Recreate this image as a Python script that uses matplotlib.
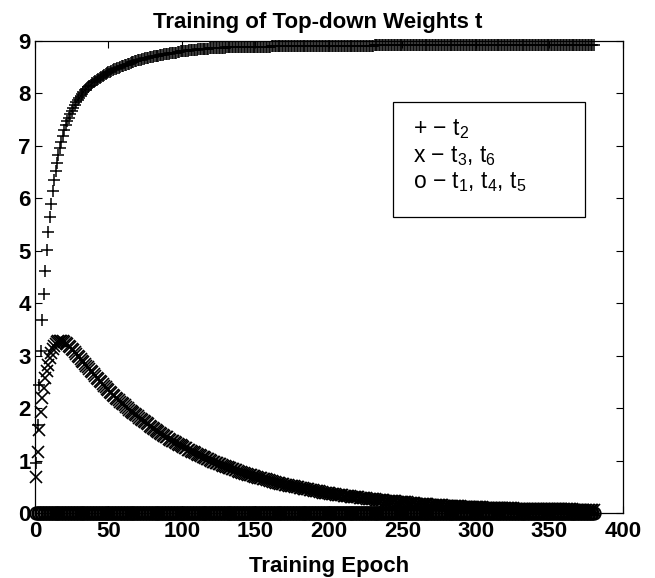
import numpy as np
import matplotlib
matplotlib.use("Agg")
import matplotlib.pyplot as plt
from matplotlib.patches import Rectangle

plt.rcParams['font.family'] = ['Liberation Sans', 'DejaVu Sans']
plt.rcParams['mathtext.fontset'] = 'custom'
plt.rcParams['mathtext.rm'] = 'Liberation Sans'
plt.rcParams['mathtext.it'] = 'Liberation Sans'

# training epochs 1..380, one marker per epoch
epochs = np.arange(1, 381)

# t2 (plus markers)
t_plus = [
    0.95, 1.68, 2.44, 3.08, 3.68, 4.18, 4.61, 5.01, 5.35, 5.64,
    5.90, 6.13, 6.34, 6.52, 6.68, 6.83, 6.96, 7.08, 7.19, 7.30,
    7.39, 7.47, 7.54, 7.61, 7.67, 7.73, 7.78, 7.83, 7.88, 7.92,
    7.96, 7.99, 8.03, 8.06, 8.09, 8.12, 8.15, 8.17, 8.20, 8.22,
    8.24, 8.26, 8.28, 8.30, 8.32, 8.34, 8.35, 8.37, 8.38, 8.40,
    8.41, 8.43, 8.44, 8.46, 8.47, 8.48, 8.49, 8.51, 8.52, 8.53,
    8.54, 8.55, 8.56, 8.57, 8.58, 8.59, 8.60, 8.61, 8.62, 8.63,
    8.64, 8.64, 8.65, 8.66, 8.67, 8.67, 8.68, 8.69, 8.69, 8.70,
    8.71, 8.71, 8.72, 8.72, 8.73, 8.74, 8.74, 8.75, 8.75, 8.76,
    8.76, 8.77, 8.77, 8.78, 8.78, 8.78, 8.79, 8.79, 8.80, 8.80,
    8.80, 8.81, 8.81, 8.81, 8.82, 8.82, 8.82, 8.83, 8.83, 8.83,
    8.84, 8.84, 8.84, 8.84, 8.85, 8.85, 8.85, 8.85, 8.86, 8.86,
    8.86, 8.86, 8.86, 8.87, 8.87, 8.87, 8.87, 8.87, 8.87, 8.88,
    8.88, 8.88, 8.88, 8.88, 8.88, 8.88, 8.88, 8.88, 8.88, 8.88,
    8.88, 8.88, 8.88, 8.89, 8.89, 8.89, 8.89, 8.89, 8.89, 8.89,
    8.89, 8.89, 8.89, 8.89, 8.89, 8.89, 8.89, 8.89, 8.89, 8.89,
    8.90, 8.90, 8.90, 8.90, 8.90, 8.90, 8.90, 8.90, 8.90, 8.90,
    8.90, 8.90, 8.90, 8.90, 8.90, 8.90, 8.90, 8.90, 8.90, 8.90,
    8.90, 8.90, 8.90, 8.90, 8.90, 8.90, 8.90, 8.90, 8.90, 8.90,
    8.91, 8.91, 8.91, 8.91, 8.91, 8.91, 8.91, 8.91, 8.91, 8.91,
    8.91, 8.91, 8.91, 8.91, 8.91, 8.91, 8.91, 8.91, 8.91, 8.91,
    8.91, 8.91, 8.91, 8.91, 8.91, 8.91, 8.91, 8.91, 8.91, 8.91,
    8.91, 8.91, 8.91, 8.91, 8.91, 8.91, 8.91, 8.91, 8.91, 8.91,
    8.92, 8.92, 8.92, 8.92, 8.92, 8.92, 8.92, 8.92, 8.92, 8.92,
    8.92, 8.92, 8.92, 8.92, 8.92, 8.92, 8.92, 8.92, 8.92, 8.92,
    8.92, 8.92, 8.92, 8.92, 8.92, 8.92, 8.92, 8.92, 8.92, 8.92,
    8.92, 8.92, 8.92, 8.92, 8.92, 8.92, 8.92, 8.92, 8.92, 8.92,
    8.92, 8.92, 8.92, 8.92, 8.92, 8.92, 8.92, 8.92, 8.92, 8.92,
    8.92, 8.92, 8.92, 8.92, 8.92, 8.92, 8.92, 8.92, 8.92, 8.92,
    8.92, 8.92, 8.92, 8.92, 8.92, 8.92, 8.92, 8.92, 8.92, 8.92,
    8.92, 8.92, 8.92, 8.92, 8.92, 8.92, 8.92, 8.92, 8.92, 8.92,
    8.92, 8.92, 8.92, 8.92, 8.92, 8.92, 8.92, 8.92, 8.92, 8.92,
    8.92, 8.92, 8.92, 8.92, 8.92, 8.92, 8.92, 8.92, 8.92, 8.92,
    8.92, 8.92, 8.92, 8.92, 8.92, 8.92, 8.92, 8.92, 8.92, 8.92,
    8.92, 8.92, 8.92, 8.92, 8.92, 8.92, 8.92, 8.92, 8.92, 8.92,
    8.92, 8.92, 8.92, 8.92, 8.92, 8.92, 8.92, 8.92, 8.92, 8.92,
    8.92, 8.92, 8.92, 8.92, 8.92, 8.92, 8.92, 8.92, 8.92, 8.92,
    8.92, 8.92, 8.92, 8.92, 8.92, 8.92, 8.92, 8.92, 8.92, 8.92,
]

# t3, t6 (x markers)
t_x = [
    0.69, 1.17, 1.58, 1.93, 2.19, 2.38, 2.57, 2.70, 2.83, 2.95,
    3.05, 3.13, 3.19, 3.23, 3.26, 3.27, 3.28, 3.28, 3.27, 3.26,
    3.24, 3.22, 3.19, 3.16, 3.13, 3.10, 3.07, 3.03, 3.00, 2.97,
    2.94, 2.90, 2.87, 2.84, 2.81, 2.78, 2.74, 2.71, 2.68, 2.65,
    2.61, 2.58, 2.55, 2.52, 2.49, 2.46, 2.43, 2.40, 2.37, 2.34,
    2.31, 2.28, 2.25, 2.23, 2.20, 2.18, 2.15, 2.12, 2.10, 2.07,
    2.05, 2.02, 2.00, 1.97, 1.95, 1.93, 1.90, 1.88, 1.86, 1.84,
    1.81, 1.79, 1.77, 1.75, 1.73, 1.71, 1.69, 1.66, 1.64, 1.62,
    1.60, 1.58, 1.56, 1.54, 1.53, 1.51, 1.49, 1.47, 1.45, 1.44,
    1.42, 1.40, 1.38, 1.37, 1.35, 1.34, 1.32, 1.30, 1.29, 1.27,
    1.26, 1.24, 1.23, 1.21, 1.20, 1.18, 1.17, 1.16, 1.14, 1.13,
    1.11, 1.10, 1.09, 1.07, 1.06, 1.05, 1.03, 1.02, 1.01, 1.00,
    0.98, 0.97, 0.96, 0.95, 0.94, 0.93, 0.92, 0.90, 0.89, 0.88,
    0.87, 0.86, 0.85, 0.84, 0.83, 0.82, 0.81, 0.80, 0.79, 0.78,
    0.77, 0.76, 0.75, 0.74, 0.73, 0.73, 0.72, 0.71, 0.70, 0.69,
    0.68, 0.67, 0.66, 0.66, 0.65, 0.64, 0.64, 0.63, 0.62, 0.61,
    0.61, 0.60, 0.59, 0.58, 0.58, 0.57, 0.56, 0.56, 0.55, 0.54,
    0.54, 0.53, 0.52, 0.52, 0.51, 0.51, 0.50, 0.49, 0.49, 0.48,
    0.48, 0.47, 0.46, 0.46, 0.45, 0.45, 0.44, 0.44, 0.43, 0.42,
    0.42, 0.41, 0.41, 0.40, 0.40, 0.39, 0.39, 0.38, 0.38, 0.38,
    0.37, 0.37, 0.36, 0.36, 0.35, 0.35, 0.34, 0.34, 0.34, 0.33,
    0.33, 0.32, 0.32, 0.32, 0.31, 0.31, 0.31, 0.30, 0.30, 0.30,
    0.29, 0.29, 0.28, 0.28, 0.28, 0.27, 0.27, 0.27, 0.26, 0.26,
    0.26, 0.25, 0.25, 0.25, 0.24, 0.24, 0.24, 0.23, 0.23, 0.23,
    0.23, 0.22, 0.22, 0.22, 0.22, 0.21, 0.21, 0.21, 0.21, 0.20,
    0.20, 0.20, 0.20, 0.19, 0.19, 0.19, 0.19, 0.19, 0.18, 0.18,
    0.18, 0.18, 0.17, 0.17, 0.17, 0.17, 0.17, 0.16, 0.16, 0.16,
    0.16, 0.16, 0.15, 0.15, 0.15, 0.15, 0.15, 0.14, 0.14, 0.14,
    0.14, 0.14, 0.14, 0.13, 0.13, 0.13, 0.13, 0.13, 0.13, 0.12,
    0.12, 0.12, 0.12, 0.12, 0.12, 0.12, 0.11, 0.11, 0.11, 0.11,
    0.11, 0.11, 0.11, 0.11, 0.10, 0.10, 0.10, 0.10, 0.10, 0.10,
    0.10, 0.10, 0.10, 0.10, 0.10, 0.09, 0.09, 0.09, 0.09, 0.09,
    0.09, 0.09, 0.09, 0.09, 0.09, 0.08, 0.08, 0.08, 0.08, 0.08,
    0.08, 0.08, 0.08, 0.08, 0.08, 0.08, 0.08, 0.08, 0.08, 0.07,
    0.07, 0.07, 0.07, 0.07, 0.07, 0.07, 0.07, 0.07, 0.07, 0.07,
    0.07, 0.07, 0.07, 0.07, 0.07, 0.07, 0.07, 0.07, 0.07, 0.07,
    0.07, 0.07, 0.07, 0.07, 0.07, 0.06, 0.06, 0.06, 0.06, 0.06,
    0.06, 0.06, 0.06, 0.06, 0.06, 0.06, 0.06, 0.06, 0.06, 0.06,
]

# t1, t4, t5 (o markers) stay at zero
t_o = [
    0, 0, 0, 0, 0, 0, 0, 0, 0, 0, 0, 0, 0, 0, 0, 0, 0, 0, 0, 0,
    0, 0, 0, 0, 0, 0, 0, 0, 0, 0, 0, 0, 0, 0, 0, 0, 0, 0, 0, 0,
    0, 0, 0, 0, 0, 0, 0, 0, 0, 0, 0, 0, 0, 0, 0, 0, 0, 0, 0, 0,
    0, 0, 0, 0, 0, 0, 0, 0, 0, 0, 0, 0, 0, 0, 0, 0, 0, 0, 0, 0,
    0, 0, 0, 0, 0, 0, 0, 0, 0, 0, 0, 0, 0, 0, 0, 0, 0, 0, 0, 0,
    0, 0, 0, 0, 0, 0, 0, 0, 0, 0, 0, 0, 0, 0, 0, 0, 0, 0, 0, 0,
    0, 0, 0, 0, 0, 0, 0, 0, 0, 0, 0, 0, 0, 0, 0, 0, 0, 0, 0, 0,
    0, 0, 0, 0, 0, 0, 0, 0, 0, 0, 0, 0, 0, 0, 0, 0, 0, 0, 0, 0,
    0, 0, 0, 0, 0, 0, 0, 0, 0, 0, 0, 0, 0, 0, 0, 0, 0, 0, 0, 0,
    0, 0, 0, 0, 0, 0, 0, 0, 0, 0, 0, 0, 0, 0, 0, 0, 0, 0, 0, 0,
    0, 0, 0, 0, 0, 0, 0, 0, 0, 0, 0, 0, 0, 0, 0, 0, 0, 0, 0, 0,
    0, 0, 0, 0, 0, 0, 0, 0, 0, 0, 0, 0, 0, 0, 0, 0, 0, 0, 0, 0,
    0, 0, 0, 0, 0, 0, 0, 0, 0, 0, 0, 0, 0, 0, 0, 0, 0, 0, 0, 0,
    0, 0, 0, 0, 0, 0, 0, 0, 0, 0, 0, 0, 0, 0, 0, 0, 0, 0, 0, 0,
    0, 0, 0, 0, 0, 0, 0, 0, 0, 0, 0, 0, 0, 0, 0, 0, 0, 0, 0, 0,
    0, 0, 0, 0, 0, 0, 0, 0, 0, 0, 0, 0, 0, 0, 0, 0, 0, 0, 0, 0,
    0, 0, 0, 0, 0, 0, 0, 0, 0, 0, 0, 0, 0, 0, 0, 0, 0, 0, 0, 0,
    0, 0, 0, 0, 0, 0, 0, 0, 0, 0, 0, 0, 0, 0, 0, 0, 0, 0, 0, 0,
    0, 0, 0, 0, 0, 0, 0, 0, 0, 0, 0, 0, 0, 0, 0, 0, 0, 0, 0, 0,
]

legend_lines = [r'+ $-$ t$_\mathregular{2}$',
                r'x $-$ t$_\mathregular{3}$, t$_\mathregular{6}$',
                r'o $-$ t$_\mathregular{1}$, t$_\mathregular{4}$, t$_\mathregular{5}$']

fig = plt.figure(figsize=(6.55, 5.78), dpi=100)
ax = fig.add_axes([0.0534, 0.1125, 0.8977, 0.8166])

ax.plot(epochs, t_plus, ls='none', marker='+', ms=8, mew=1.1, color='k', clip_on=False)
ax.plot(epochs, t_x, ls='none', marker='x', ms=8.5, mew=1.2, color='k', clip_on=False)
ax.plot(epochs, t_o, ls='none', marker='o', ms=9, mew=1.3, mfc='none', color='k', clip_on=False)

ax.set_xlim(0, 400)
ax.set_ylim(0, 9)
ax.set_xticks(np.arange(0, 401, 50))
ax.set_yticks(np.arange(0, 10, 1))
ax.tick_params(direction='in', top=True, right=True, length=5, width=0.8,
               labelsize=16)
ax.tick_params(axis='x', pad=6)
ax.tick_params(axis='y', pad=3)
for lab in ax.get_xticklabels() + ax.get_yticklabels():
    lab.set_fontweight('bold')
for sp in ax.spines.values():
    sp.set_linewidth(0.9)

ax.set_title('Training of Top-down Weights t', fontsize=16, fontweight='bold',
             x=0.48, pad=9)
ax.set_xlabel('Training Epoch', fontsize=16, fontweight='bold', labelpad=10)

# text-only legend box
ax.add_patch(Rectangle((0.609, 0.627), 0.326, 0.244, transform=ax.transAxes,
                       fill=True, facecolor='white', edgecolor='k', lw=0.9, zorder=5))
for i, line in enumerate(legend_lines):
    ax.text(0.643, 0.813 - i * 0.056, line, transform=ax.transAxes, fontsize=16.5,
            va='center', ha='left', zorder=6)

fig.savefig('out.png', dpi=100)
